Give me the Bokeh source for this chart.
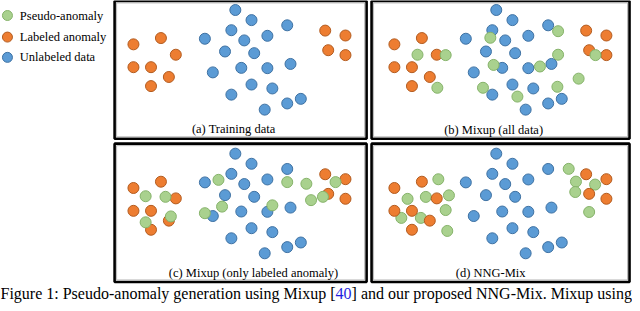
from bokeh.plotting import figure
from bokeh.models import Range1d, ColumnDataSource
from bokeh.core.properties import value
from bokeh.embed import file_html
from bokeh.resources import INLINE

# ---------------- data (coordinates, panel (a) frame) ----------------
labeled_x = [137, 164.7, 179.7, 137, 154.7, 172.7, 154.7, 330.3, 350.7, 333.3, 350.7]
labeled_y = [46.7, 40.3, 57.3, 70, 70, 80, 89.3, 32.7, 37.7, 52.7, 57.7]

unlabeled_x = [239.7, 256, 292, 235.7, 272, 209, 248.7, 229.3, 258.7, 295.3,
               217, 245.7, 272, 256, 277, 235.7, 305.7, 292, 269.3]
unlabeled_y = [11.7, 22, 27.3, 32.3, 38, 41, 42.7, 54, 55.7, 66.7,
               75.3, 70.7, 71, 87.7, 91.7, 98, 102.3, 107, 113.3]

pseudo_b_x = [160.3, 188.7, 180.3, 233.7, 237, 226.3, 261, 283.7, 302, 302, 301.3, 322.7, 339.7]
pseudo_b_y = [57.3, 57.7, 91, 40, 67.7, 91, 100, 69.3, 33.3, 57.3, 90, 81.7, 57.7]

pseudo_c_x = [149.3, 169.3, 174.7, 149.3, 222.7, 226.3, 209, 277, 292, 311.3, 316, 328, 340.7]
pseudo_c_y = [55.1, 55.7, 75.7, 81.7, 38.4, 65.7, 72.4, 64.4, 40.7, 42.4, 59.1, 55.7, 40.7]

pseudo_d_x = [181.3, 150.3, 168.7, 192, 188.7, 144, 163.7, 190.3, 312.7, 320, 339.3, 319.3, 333.3]
pseudo_d_y = [37.8, 57.8, 55.8, 54.2, 69.2, 77.2, 77.2, 90.5, 27.2, 40.2, 43.2, 50.8, 71.2]

panel_titles = ["(a) Training data", "(b) Mixup (all data)",
                "(c) Mixup (only labeled anomaly)", "(d) NNG-Mix"]
legend_labels = ["Pseudo-anomaly", "Labeled anomaly", "Unlabeled data"]
caption_parts = ["Figure 1: Pseudo-anomaly generation using Mixup [", "40",
                 "] and our proposed NNG-Mix. Mixup using"]

# ---------------- styling / layout ----------------
GREEN, GREEN_E = "#A9D18E", "#86B36A"
ORANGE, ORANGE_E = "#ED7D31", "#B35C20"
BLUE, BLUE_E = "#5B9BD5", "#3F72A3"
LINK_BLUE = "#1F1FE0"
FONT = value("'Liberation Serif', 'Times New Roman', serif")

# approximate Times/Liberation Serif advance widths (per 1000 em), used to place caption pieces
TIMES_W = {" ": 250, "F": 556, "i": 278, "g": 500, "u": 500, "r": 333, "e": 444, "1": 500,
           ":": 278, "P": 556, "s": 389, "d": 500, "o": 500, "-": 333, "a": 444, "n": 500,
           "m": 778, "l": 278, "y": 500, "t": 278, "M": 889, "x": 500, "p": 500, "[": 333,
           "4": 500, "0": 500, "]": 333, "N": 722, "G": 722, ".": 250, "c": 444}


def text_width(s, size_px):
    return sum(TIMES_W.get(ch, 500) for ch in s) / 1000.0 * size_px


# panel frames: left, right, top, bottom ; offsets of the data frame
panels = [
    dict(box=(118, 372, 2.5, 143), dx=0, dy=0, green=None, title_xy=(238, 133)),
    dict(box=(377, 637, 2.5, 143), dx=263, dy=0, green=(pseudo_b_x, pseudo_b_y), title_xy=(500, 134)),
    dict(box=(118, 372, 148, 289), dx=0, dy=146.5, green=(pseudo_c_x, pseudo_c_y), title_xy=(258, 280)),
    dict(box=(377, 637, 148, 289), dx=263, dy=146.5, green=(pseudo_d_x, pseudo_d_y), title_xy=(497, 280)),
]

X0, X1, Y0, Y1 = 3, 640, 311, 2
W, H = 632, 303
p = figure(width=W, height=H, output_backend="svg", toolbar_location=None,
           x_range=Range1d(X0, X1), y_range=Range1d(Y0, Y1),
           min_border=0)
p.axis.visible = False
p.grid.visible = False
p.outline_line_color = None
p.background_fill_color = "white"

for i, pan in enumerate(panels):
    l, r, t, b = pan["box"]
    # outer black frame and inner gray line
    p.quad(left=[l], right=[r], top=[t], bottom=[b], fill_color="white",
           line_color="black", line_width=2.6)
    p.quad(left=[l + 2], right=[r - 2], top=[t + 2], bottom=[b - 2], fill_color=None,
           line_color="#A8A8A8", line_width=0.8)
    dx, dy = pan["dx"], pan["dy"]
    src_l = ColumnDataSource(dict(x=[v + dx for v in labeled_x], y=[v + dy for v in labeled_y]))
    src_u = ColumnDataSource(dict(x=[v + dx for v in unlabeled_x], y=[v + dy for v in unlabeled_y]))
    p.scatter("x", "y", source=src_u, size=11, fill_color=BLUE, line_color=BLUE_E, line_width=1)
    if i == 3:
        gx, gy = pan["green"]
        src_g = ColumnDataSource(dict(x=[v + dx for v in gx], y=[v + dy for v in gy]))
        p.scatter("x", "y", source=src_g, size=11, fill_color=GREEN, line_color=GREEN_E, line_width=1)
        p.scatter("x", "y", source=src_l, size=11, fill_color=ORANGE, line_color=ORANGE_E, line_width=1)
    else:
        p.scatter("x", "y", source=src_l, size=11, fill_color=ORANGE, line_color=ORANGE_E, line_width=1)
        if pan["green"] is not None:
            gx, gy = pan["green"]
            src_g = ColumnDataSource(dict(x=[v + dx for v in gx], y=[v + dy for v in gy]))
            p.scatter("x", "y", source=src_g, size=11, fill_color=GREEN, line_color=GREEN_E, line_width=1)
    tx, ty = pan["title_xy"]
    p.text(x=[tx], y=[ty], text=[panel_titles[i]], text_font=FONT, text_font_size="12.5px",
           text_align="center", text_baseline="middle", text_color="black")

# legend
leg_y = [17.3, 39.3, 60]
leg_fill = [GREEN, ORANGE, BLUE]
leg_line = [GREEN_E, ORANGE_E, BLUE_E]
p.scatter(x=[10, 10, 10], y=leg_y, size=10, fill_color=leg_fill, line_color=leg_line, line_width=1)
p.text(x=[22.5] * 3, y=leg_y, text=legend_labels, text_font=FONT, text_font_size="12.5px",
       text_align="left", text_baseline="middle", text_color="black")

# caption (near the bottom edge, as in the reference); "40" is a blue citation link
CAP_PX = 16
units_per_px = (X1 - X0) / W
cx = 3.0
cap_colors = ["black", LINK_BLUE, "black"]
for part, col in zip(caption_parts, cap_colors):
    p.text(x=[cx], y=[301], text=[part], text_font=FONT, text_font_size=f"{CAP_PX}px",
           text_align="left", text_baseline="alphabetic", text_color=col)
    cx += text_width(part, CAP_PX) * units_per_px

open("out.html", "w").write(file_html(p, INLINE))
